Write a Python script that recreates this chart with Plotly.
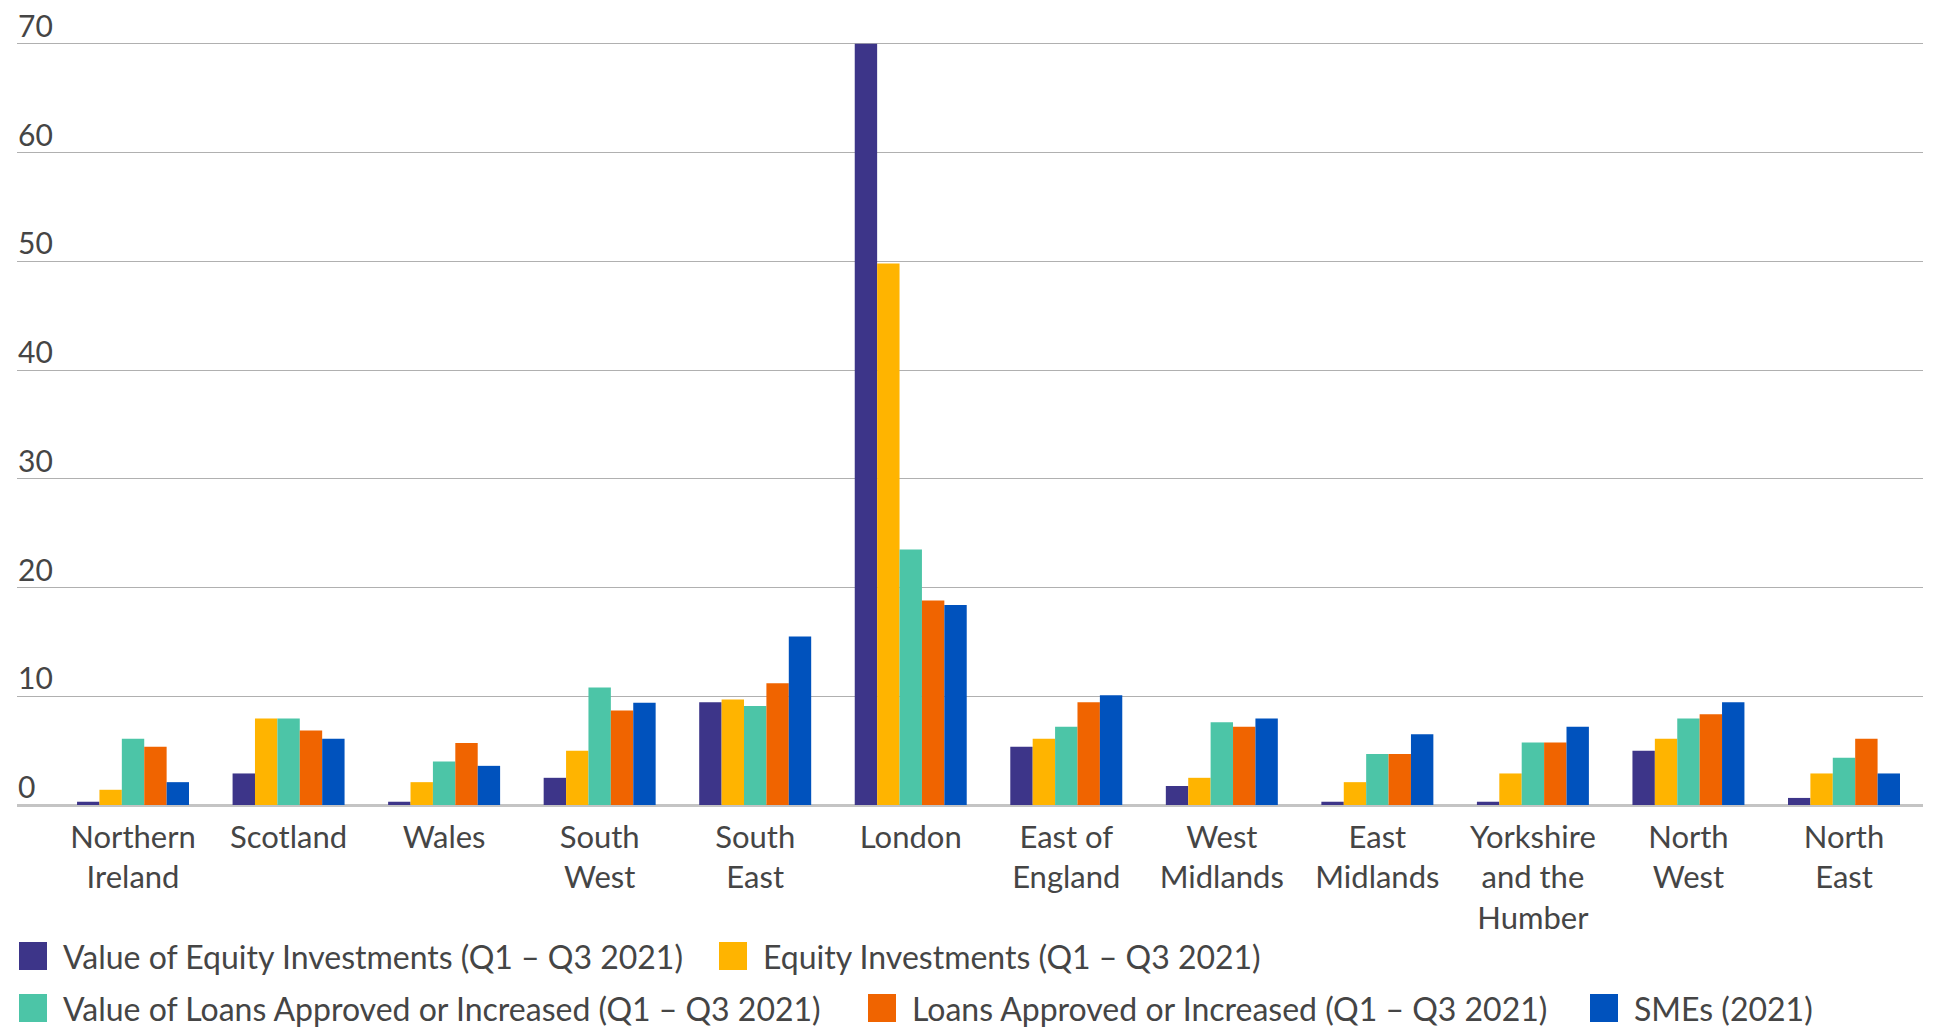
import plotly.graph_objects as go

# Regions along the x axis
regions = [
    "Northern<br>Ireland", "Scotland", "Wales", "South<br>West", "South<br>East",
    "London", "East of<br>England", "West<br>Midlands", "East<br>Midlands",
    "Yorkshire<br>and the<br>Humber", "North<br>West", "North<br>East",
]

# Share of UK total (%) for each series, by region
value_equity = [0.3, 2.9, 0.3, 2.5, 9.45, 70.0, 5.35, 1.75, 0.3, 0.3, 5.0, 0.65]
equity_count = [1.4, 7.95, 2.1, 5.0, 9.7, 49.8, 6.1, 2.5, 2.1, 2.9, 6.1, 2.9]
value_loans = [6.1, 7.95, 4.0, 10.8, 9.1, 23.5, 7.2, 7.6, 4.7, 5.75, 7.95, 4.35]
loans_count = [5.35, 6.85, 5.7, 8.7, 11.2, 18.8, 9.45, 7.2, 4.7, 5.75, 8.35, 6.1]
smes = [2.1, 6.1, 3.6, 9.4, 15.5, 18.4, 10.1, 7.95, 6.5, 7.2, 9.45, 2.9]

series_names = [
    "Value of Equity Investments (Q1 – Q3 2021)",
    "Equity Investments (Q1 – Q3 2021)",
    "Value of Loans Approved or Increased (Q1 – Q3 2021)",
    "Loans Approved or Increased (Q1 – Q3 2021)",
    "SMEs (2021)",
]
series_values = [value_equity, equity_count, value_loans, loans_count, smes]
series_colors = ["#3d3589", "#ffb400", "#4cc5a7", "#f06400", "#0052bd"]

y_ticks = [0, 10, 20, 30, 40, 50, 60, 70]

W, H = 1937, 1027
# y range runs a little past the last tick so its gridline is drawn
Y_MAX = 72.0
L, R, B = 17, 14, 222
PX_PER_UNIT = (H - B - 44) / 70.0
T = max(0, round(H - B - Y_MAX * PX_PER_UNIT))
FONT = "Lato"
TEXT_COLOR = "#454545"

fig = go.Figure()
for name, vals, col in zip(series_names, series_values, series_colors):
    fig.add_trace(go.Bar(
        x=list(range(len(regions))), y=vals, name=name,
        marker=dict(color=col, line=dict(width=0)),
        showlegend=False,
    ))

# Custom legend laid out in pixels, converted to paper coordinates
plot_w = W - L - R
plot_h = H - T - B


def px_x(px):
    return (px - L) / plot_w


def px_y(py):
    return (H - B - py) / plot_h


legend_rows = [
    [(0, 19), (1, 719)],
    [(2, 19), (3, 868), (4, 1590)],
]
legend_row_y = [956, 1008]
sw = 28
shapes = []
annotations = []
for row, cy in zip(legend_rows, legend_row_y):
    for idx, x0 in row:
        shapes.append(dict(
            type="rect", xref="paper", yref="paper",
            x0=px_x(x0), x1=px_x(x0 + sw), y0=px_y(cy + sw / 2), y1=px_y(cy - sw / 2),
            fillcolor=series_colors[idx], line=dict(width=0),
        ))
        annotations.append(dict(
            xref="paper", yref="paper", x=px_x(x0 + sw + 15), y=px_y(cy),
            xanchor="left", yanchor="middle", showarrow=False, borderpad=0,
            text=series_names[idx], font=dict(family=FONT, size=32, color=TEXT_COLOR),
        ))

# Y tick labels sit just above their gridlines, inside the plot area
for v in y_ticks:
    annotations.append(dict(
        xref="paper", yref="y", x=0, y=v, xanchor="left", yanchor="bottom",
        showarrow=False, borderpad=0, text=str(v),
        font=dict(family=FONT, size=30, color=TEXT_COLOR),
    ))

fig.update_layout(
    width=W, height=H, autosize=False,
    margin=dict(l=L, r=R, t=T, b=B),
    paper_bgcolor="white", plot_bgcolor="white",
    barmode="group", bargap=0.28, bargroupgap=0,
    font=dict(family=FONT, size=30, color=TEXT_COLOR),
    shapes=shapes, annotations=annotations,
    xaxis=dict(
        tickmode="array", tickvals=list(range(len(regions))), ticktext=regions,
        range=[-0.746, 11.508], showgrid=False, zeroline=False,
        showline=False, ticks="", ticklabelstandoff=11,
        tickfont=dict(family=FONT, size=31, color=TEXT_COLOR),
    ),
    yaxis=dict(
        range=[0, Y_MAX], tickvals=y_ticks, showgrid=True,
        gridcolor="#b0b0b0", gridwidth=1.2,
        zeroline=True, zerolinecolor="#c4c4c4", zerolinewidth=2.5,
        showline=False, ticks="", showticklabels=False,
    ),
)

fig.write_html("out.html")
